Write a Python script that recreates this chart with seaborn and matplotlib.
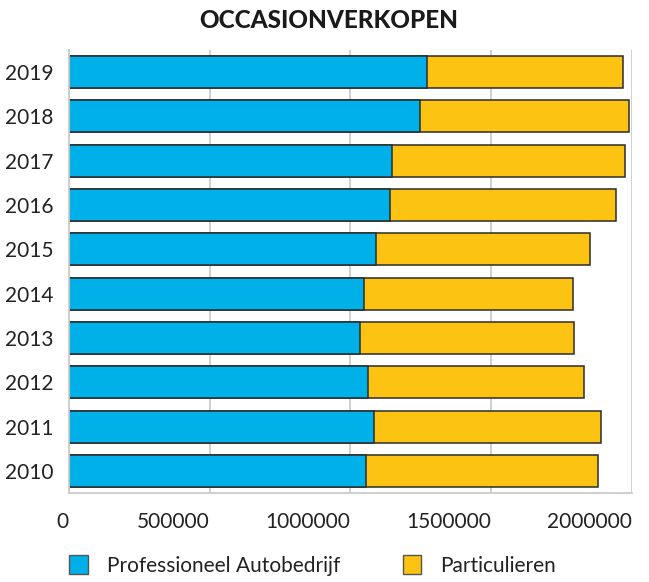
import matplotlib
matplotlib.use("Agg")
import matplotlib.pyplot as plt
import seaborn as sns
import pandas as pd
from matplotlib.patches import Patch

years = [2019, 2018, 2017, 2016, 2015, 2014, 2013, 2012, 2011, 2010]
professioneel = [1273000, 1248000, 1146000, 1139000, 1090000, 1048000, 1032000, 1062000, 1084000, 1054000]
particulieren = [696000, 742000, 829000, 805000, 760000, 742000, 761000, 768000, 806000, 826000]
xticks = [0, 500000, 1000000, 1500000, 2000000]

blue = "#00B1E9"
yellow = "#FDC313"
edge = "#2b2b2b"

df = pd.DataFrame({
    "jaar": [str(y) for y in years],
    "prof": professioneel,
    "part": particulieren,
})
df["totaal"] = df["prof"] + df["part"]

sns.set_theme(style="white")
plt.rcParams["font.family"] = ["Lato", "DejaVu Sans"]

fig = plt.figure(figsize=(6.49, 5.82), dpi=100)
ax = fig.add_axes([0.1063, 0.1529, 0.8675, 0.7612])

order = df["jaar"].tolist()
# stacked: totaal in geel, professioneel in blauw eroverheen
sns.barplot(data=df, x="totaal", y="jaar", order=order, color=yellow, saturation=1,
            width=0.72, edgecolor=edge, linewidth=1.1, ax=ax, orient="h")
sns.barplot(data=df, x="prof", y="jaar", order=order, color=blue, saturation=1,
            width=0.72, edgecolor=edge, linewidth=1.1, ax=ax, orient="h")

ax.set_xlim(0, 2000000)
ax.set_ylim(len(years) - 0.5, -0.5)
ax.set_xticks(xticks)
ax.set_xticklabels([str(t) for t in xticks], fontsize=15, color="#222222", ha="right")
ax.tick_params(axis="x", length=0, pad=14)
ax.tick_params(axis="y", length=0, pad=11, labelsize=15, labelcolor="#222222")
ax.set_xlabel("")
ax.set_ylabel("")

ax.grid(axis="x", color="#cccccc", linewidth=1.3)
ax.grid(axis="y", visible=False)
ax.set_axisbelow(True)
for side in ["top", "right"]:
    ax.spines[side].set_visible(False)
for side in ["left", "bottom"]:
    ax.spines[side].set_color("#cccccc")
    ax.spines[side].set_linewidth(1.3)

fig.text(0.506, 0.965, "OCCASIONVERKOPEN", ha="center", va="center",
         fontsize=17.5, fontweight="black", color="#1a1a1a")

handles = [Patch(facecolor=blue, edgecolor="#555555", label="Professioneel Autobedrijf"),
           Patch(facecolor=yellow, edgecolor="#555555", label="Particulieren")]
fig.legend(handles=handles, loc="center left", bbox_to_anchor=(0.078, 0.028), ncol=2,
           frameon=False, fontsize=15, handlelength=0.9, handleheight=1.0,
           handletextpad=0.9, columnspacing=3.0, labelcolor="#222222")

fig.savefig("out.png", dpi=100)
